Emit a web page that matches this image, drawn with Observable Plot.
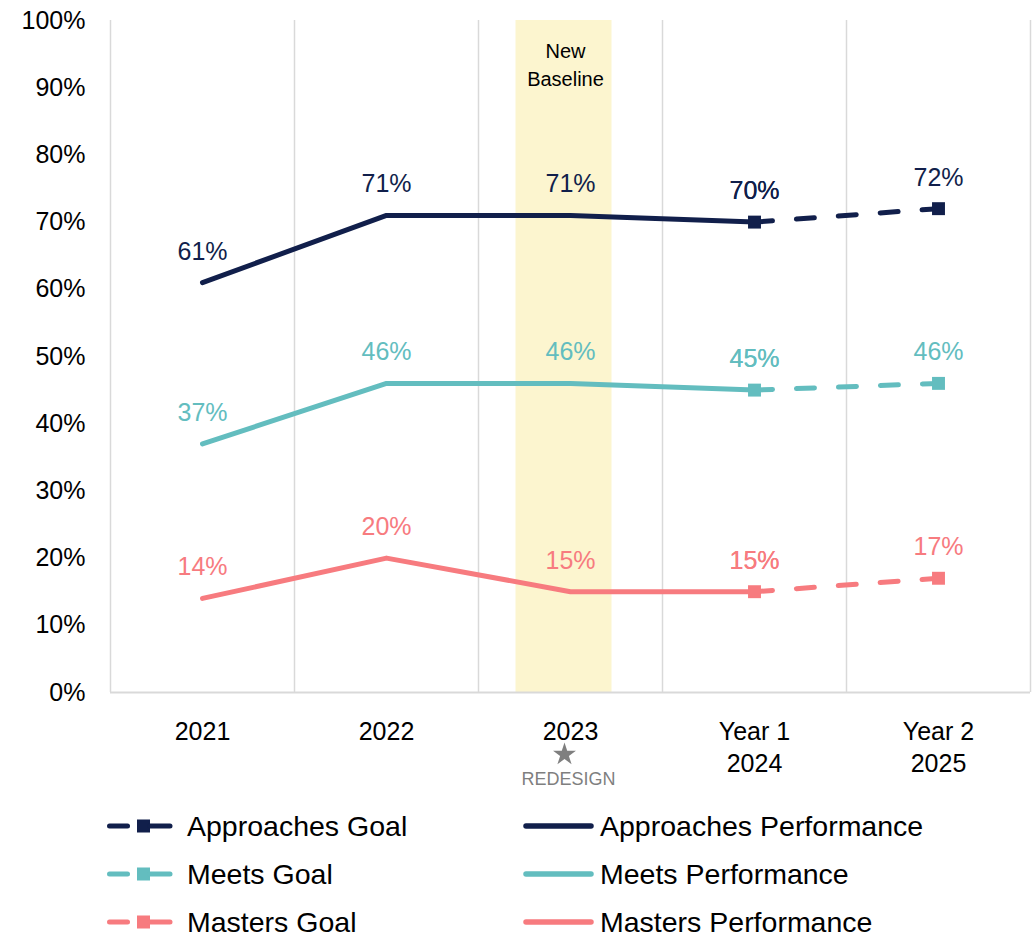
<!DOCTYPE html>
<html><head><meta charset="utf-8">
<script src="https://cdn.jsdelivr.net/npm/d3@7"></script>
<script src="https://cdn.jsdelivr.net/npm/@observablehq/plot@0.6"></script>
<style>
body{margin:0;background:#fff;font-family:"Liberation Sans",Arial,sans-serif;}
#chart svg{display:block;}
#legend{position:relative;width:1035px;}
.row{position:relative;height:48px;}
.item{position:absolute;top:0;height:48px;display:flex;align-items:center;font-size:28.5px;color:#000;white-space:nowrap;}
.item svg{display:block;}
</style></head><body>
<div id="chart"></div>
<div id="legend"></div>
<script>
// ---- data ----
const categories = ["2021", "2022", "2023", "Year 1\n2024", "Year 2\n2025"];
const performanceCategories = ["2021", "2022", "2023", "Year 1\n2024"];
const goalCategories = ["Year 1\n2024", "Year 2\n2025"];
const seriesNames = ["Approaches", "Meets", "Masters"];
const seriesColors = ["#111f4b", "#63bdbf", "#f77b7f"];
const approachesPerformance = [61, 71, 71, 70];
const meetsPerformance = [37, 46, 46, 45];
const mastersPerformance = [14, 20, 15, 15];
const approachesGoal = [70, 72];
const meetsGoal = [45, 46];
const mastersGoal = [15, 17];
const yTicks = [0, 10, 20, 30, 40, 50, 60, 70, 80, 90, 100];
const baselineCategory = "2023";
const baselineLabel = "New\nBaseline";
const redesignLabel = "REDESIGN";

const perfValues = [approachesPerformance, meetsPerformance, mastersPerformance];
const goalValues = [approachesGoal, meetsGoal, mastersGoal];

const gridColor = "#d9d9d9";
const marks = [
  Plot.ruleX([baselineCategory], {y1: 0, y2: 100, stroke: "#fcf5cf", strokeWidth: 96, dx: -7}),
  Plot.ruleX(categories, {y1: 0, y2: 100, stroke: gridColor, strokeWidth: 1.5, dx: -92}),
  Plot.ruleX(categories.slice(-1), {y1: 0, y2: 100, stroke: gridColor, strokeWidth: 1.5, dx: 92}),
  Plot.ruleY([0], {stroke: gridColor, strokeWidth: 2}),
  Plot.axisY({ticks: yTicks, tickFormat: d => d + "%", tickSize: 0, tickPadding: 25, fontSize: 25, fill: "#000", label: null}),
  Plot.axisX({tickSize: 0, tickPadding: 25, fontSize: 25, lineHeight: 1.28, fill: "#000", label: null}),
  Plot.text([baselineCategory], {x: d => d, frameAnchor: "top", text: () => baselineLabel, lineAnchor: "top", dy: 18, dx: -5, fontSize: 20, lineHeight: 1.4, fill: "#000"}),
  Plot.dot([baselineCategory], {x: d => d, frameAnchor: "bottom", symbol: "star", r: 7.2, dy: 62, dx: -6, fill: "#7f7f7f", stroke: "none"}),
  Plot.text([baselineCategory], {x: d => d, frameAnchor: "bottom", text: () => redesignLabel, lineAnchor: "middle", dy: 87, dx: -2, fontSize: 18, fill: "#7f7f7f"})
];

seriesNames.forEach((name, i) => {
  const color = seriesColors[i];
  const perf = performanceCategories.map((c, j) => ({cat: c, value: perfValues[i][j]}));
  const goal = goalCategories.map((c, j) => ({cat: c, value: goalValues[i][j]}));
  marks.push(
    Plot.line(goal, {x: "cat", y: "value", stroke: color, strokeWidth: 5, strokeDasharray: "18,24", strokeLinecap: "round"}),
    Plot.line(perf, {x: "cat", y: "value", stroke: color, strokeWidth: 5, strokeLinecap: "round", strokeLinejoin: "round"}),
    Plot.dot(goal, {x: "cat", y: "value", symbol: "square", r: 7.3, fill: color, stroke: "none"}),
    Plot.text(perf, {x: "cat", y: "value", text: d => d.value + "%", dy: -31, fontSize: 25, fill: color}),
    Plot.text(goal, {x: "cat", y: "value", text: d => d.value + "%", dy: -31, fontSize: 25, fill: color})
  );
});

const plot = Plot.plot({
  width: 1035, height: 802,
  marginLeft: 110, marginRight: 5, marginTop: 20, marginBottom: 110,
  style: {fontFamily: "Liberation Sans, Arial, sans-serif", background: "#fff", overflow: "visible"},
  x: {type: "point", domain: categories, padding: 0.5},
  y: {domain: [0, 100]},
  marks
});
document.getElementById("chart").appendChild(plot);

// ---- legend ----
const legend = document.getElementById("legend");
seriesNames.forEach((name, i) => {
  const color = seriesColors[i];
  const row = document.createElement("div");
  row.className = "row";
  row.innerHTML =
    `<div class="item" style="left:107px"><svg width="66" height="16"><line x1="2.5" y1="8" x2="20.5" y2="8" stroke="${color}" stroke-width="5" stroke-linecap="round"/><rect x="30" y="1.5" width="13" height="13" fill="${color}"/><line x1="43" y1="8" x2="63" y2="8" stroke="${color}" stroke-width="5" stroke-linecap="round"/></svg><span style="margin-left:14px">${name} Goal</span></div>` +
    `<div class="item" style="left:523px"><svg width="71" height="16"><line x1="3" y1="8" x2="68" y2="8" stroke="${color}" stroke-width="5.5" stroke-linecap="round"/></svg><span style="margin-left:6px">${name} Performance</span></div>`;
  legend.appendChild(row);
});
</script>
</body></html>
